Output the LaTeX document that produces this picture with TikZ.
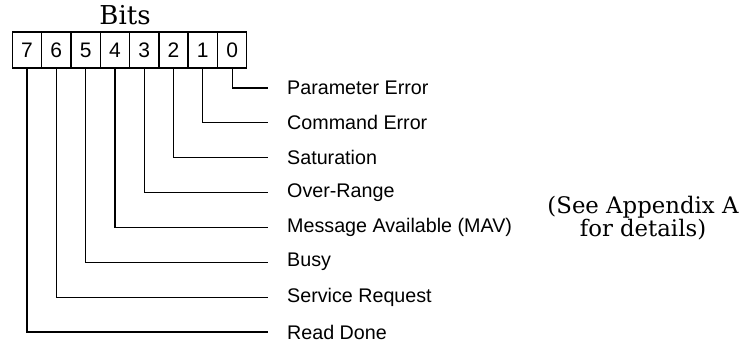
\documentclass[tikz,border=0pt]{standalone}
\usepackage{fontspec}
\newfontfamily\arialfont{Liberation Sans}
\newfontfamily\serifbook{DejaVu Serif}
\tikzset{
    bitbox/.style={draw, line width=1.4pt, minimum width=29.3pt, minimum height=36pt,
        inner sep=0pt, font=\arialfont\fontsize{21}{24}\selectfont},
    bitlabel/.style={anchor=west, inner xsep=19pt, inner ysep=0pt,
        font=\arialfont\fontsize{19.7}{22}\selectfont},
    wire/.style={line width=1.2pt}
}
\begin{document}
\begin{tikzpicture}[x=1pt, y=-1pt]
    \useasboundingbox (0,0) rectangle (743,346);
    \node[font=\serifbook\fontsize{26}{28}\selectfont] (bits) at (125,15) {Bits};

    % register cells, bit 7 on the left
    \foreach \i in {0,...,7}
        \node[bitbox] (b\i) at ({27+(7-\i)*29.3},50) {\i};

    % one label per bit, bit 0 at the top
    \foreach \i/\txt in {0/Parameter Error, 1/Command Error, 2/Saturation,
        3/Over-Range, 4/Message Available (MAV), 5/Busy,
        6/Service Request, 7/Read Done} {
        \node[bitlabel] (l\i) at (268,{88+34.85*\i}) {\txt};
        \draw[wire] (b\i.south) |- (l\i.west);
    }

    \node[align=center, font=\serifbook\fontsize{22.8}{23.5}\selectfont] (note) at (643,218)
        {(See Appendix A\\for details)};
\end{tikzpicture}
\end{document}
